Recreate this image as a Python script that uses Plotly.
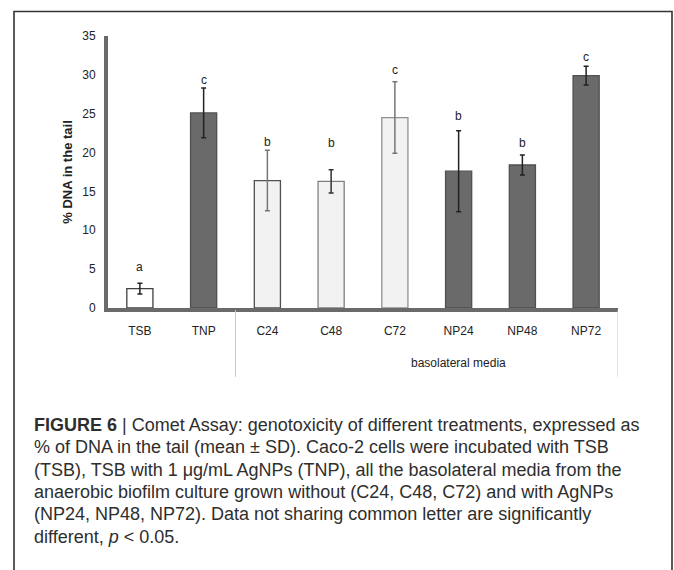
import plotly.graph_objects as go

# ---------------- data ----------------
categories = ["TSB", "TNP", "C24", "C48", "C72", "NP24", "NP48", "NP72"]
means = [2.5, 25.1, 16.4, 16.3, 24.5, 17.6, 18.4, 29.9]
sds = [0.7, 3.2, 3.9, 1.5, 4.6, 5.2, 1.3, 1.2]
letters = ["a", "c", "b", "b", "c", "b", "b", "c"]
letter_y = [4.9, 29.0, 21.0, 20.8, 30.2, 24.3, 20.9, 31.9]
group_label = "basolateral media"
y_ticks = [0, 5, 10, 15, 20, 25, 30, 35]
caption_lines = [
    "<b>FIGURE 6</b> | Comet Assay: genotoxicity of different treatments, expressed as",
    "% of DNA in the tail (mean \u00b1 SD). Caco-2 cells were incubated with TSB",
    "(TSB), TSB with 1 \u03bcg/mL AgNPs (TNP), all the basolateral media from the",
    "anaerobic biofilm culture grown without (C24, C48, C72) and with AgNPs",
    "(NP24, NP48, NP72). Data not sharing common letter are significantly",
    "different, <i>p</i> &lt; 0.05.",
]

# ---------------- styles ----------------
fills = ["#ffffff", "#6a6a6a", "#f2f2f2", "#f2f2f2", "#f2f2f2", "#6a6a6a", "#6a6a6a", "#6a6a6a"]
edges = ["#404040", "#505050", "#505050", "#808080", "#909090", "#505050", "#505050", "#505050"]
err_cols = ["#222222", "#222222", "#777777", "#333333", "#777777", "#222222", "#222222", "#222222"]

W, H = 674, 570
L, R, T, B = 108, 56, 35.5, 262
PW = W - L - R
PH = H - T - B


def px2x(px):
    return (px - L) / PW


def py2y(py):
    return (H - B - py) / PH


tick_font = dict(family="Liberation Sans Narrow, Arial Narrow, Liberation Sans, sans-serif", size=12, color="#222222")

fig = go.Figure()
for i, c in enumerate(categories):
    fig.add_trace(go.Bar(
        x=[c], y=[means[i]],
        width=0.41,
        marker=dict(color=fills[i], line=dict(color=edges[i], width=1.3)),
        error_y=dict(type="data", array=[sds[i]], visible=True,
                     color=err_cols[i], thickness=1.5, width=2.5),
        showlegend=False, hoverinfo="skip",
    ))

# significance letters
for i, c in enumerate(categories):
    fig.add_annotation(x=c, y=letter_y[i], xref="x", yref="y", text=letters[i],
                       showarrow=False, yanchor="middle", yshift=3, font=tick_font)

# group label
fig.add_annotation(x=5, y=py2y(363), xref="x", yref="paper", text=group_label,
                   showarrow=False, yanchor="middle", font=tick_font)

# group separator lines
for xs in (1.5, 7.5):
    fig.add_shape(type="line", xref="x", yref="paper", x0=xs, x1=xs,
                  y0=py2y(310), y1=py2y(377), line=dict(color="#c8c8c8", width=1))

# outer frame
fig.add_shape(type="rect", xref="paper", yref="paper",
              x0=px2x(14), x1=px2x(672), y0=py2y(620), y1=py2y(11),
              line=dict(color="#333333", width=1.6), fillcolor="rgba(0,0,0,0)", layer="below")

# caption, one line at a time
for k, line in enumerate(caption_lines):
    fig.add_annotation(x=px2x(32), y=py2y(425 + 22.4 * k), xref="paper", yref="paper", text=line,
                       showarrow=False, xanchor="left", yanchor="middle", align="left",
                       font=dict(family="Liberation Sans, Arial, sans-serif", size=18, color="#2e2e2e"))

fig.update_layout(
    width=W, height=H,
    margin=dict(l=L, r=R, t=T, b=B, pad=0),
    paper_bgcolor="white", plot_bgcolor="white",
    barmode="overlay",
    xaxis=dict(
        categoryorder="array", categoryarray=categories,
        range=[-0.5, 7.5],
        showline=True, linecolor="#6a6a6a", linewidth=3.5,
        ticks="", tickfont=tick_font, showgrid=False, zeroline=False,
        ticklabelstandoff=9,
    ),
    yaxis=dict(
        range=[0, 35], tickvals=y_ticks,
        showline=True, linecolor="#6a6a6a", linewidth=4,
        ticks="", tickfont=tick_font, showgrid=False, zeroline=False,
        ticklabelstandoff=6,
        title=dict(text="<b>% DNA in the tail</b>",
                   font=dict(family=tick_font["family"], size=13, color="#222222"), standoff=8),
    ),
)

fig.write_html("out.html")
